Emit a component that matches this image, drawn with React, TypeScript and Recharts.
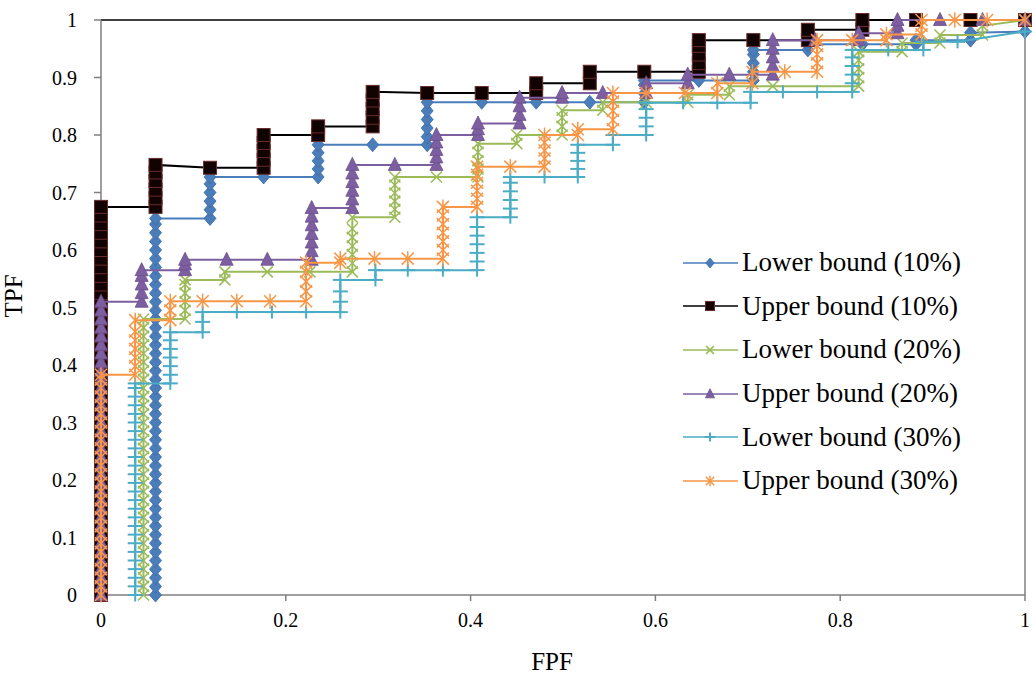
import React from 'react';
import { ScatterChart, Scatter, XAxis, YAxis, ReferenceLine, Label } from 'recharts';

// each step: [FPF, TPF values stacked at that FPF]
const lowerBound10: [number, number[]][] = [
  [0.059, [0, 0.015, 0.03, 0.045, 0.06, 0.075, 0.09, 0.105, 0.12, 0.135, 0.15, 0.165, 0.18, 0.195, 0.21, 0.225, 0.24, 0.255, 0.27, 0.285, 0.3, 0.315, 0.33, 0.345, 0.36, 0.375, 0.39, 0.405, 0.42, 0.435, 0.45, 0.465, 0.48, 0.495, 0.51, 0.525, 0.54, 0.555, 0.57, 0.585, 0.6, 0.615, 0.63, 0.645, 0.655]],
  [0.118, [0.655, 0.67, 0.685, 0.7, 0.715, 0.727]],
  [0.176, [0.727]],
  [0.235, [0.727, 0.741, 0.755, 0.769, 0.783]],
  [0.294, [0.783]],
  [0.353, [0.783, 0.797, 0.812, 0.827, 0.842, 0.857]],
  [0.412, [0.857]],
  [0.471, [0.857]],
  [0.529, [0.857]],
  [0.588, [0.857, 0.872, 0.887, 0.895]],
  [0.647, [0.895]],
  [0.706, [0.895, 0.91, 0.925, 0.94, 0.948]],
  [0.765, [0.948, 0.958]],
  [0.824, [0.958]],
  [0.882, [0.958, 0.965]],
  [0.941, [0.965, 0.978]],
  [1, [0.98]],
];

const upperBound10: [number, number[]][] = [
  [0, [0, 0.015, 0.03, 0.045, 0.06, 0.075, 0.09, 0.105, 0.12, 0.135, 0.15, 0.165, 0.18, 0.195, 0.21, 0.225, 0.24, 0.255, 0.27, 0.285, 0.3, 0.315, 0.33, 0.345, 0.36, 0.375, 0.39, 0.405, 0.42, 0.435, 0.45, 0.465, 0.48, 0.495, 0.51, 0.525, 0.54, 0.555, 0.57, 0.585, 0.6, 0.615, 0.63, 0.645, 0.66, 0.675]],
  [0.059, [0.675, 0.69, 0.705, 0.72, 0.735, 0.748]],
  [0.118, [0.743]],
  [0.176, [0.743, 0.757, 0.772, 0.786, 0.8]],
  [0.235, [0.8, 0.815]],
  [0.294, [0.815, 0.83, 0.845, 0.86, 0.875]],
  [0.353, [0.873]],
  [0.412, [0.873]],
  [0.471, [0.873, 0.89]],
  [0.529, [0.89, 0.91]],
  [0.588, [0.91]],
  [0.647, [0.91, 0.925, 0.94, 0.955, 0.965]],
  [0.706, [0.965]],
  [0.765, [0.965, 0.983]],
  [0.824, [0.983, 1]],
  [0.882, [1]],
  [0.941, [1]],
  [1, [1]],
];

const lowerBound20: [number, number[]][] = [
  [0.046, [0, 0.015, 0.03, 0.045, 0.06, 0.075, 0.09, 0.105, 0.12, 0.135, 0.15, 0.165, 0.18, 0.195, 0.21, 0.225, 0.24, 0.255, 0.27, 0.285, 0.3, 0.315, 0.33, 0.345, 0.36, 0.375, 0.39, 0.405, 0.42, 0.435, 0.45, 0.465, 0.48]],
  [0.091, [0.48, 0.495, 0.51, 0.525, 0.54, 0.548]],
  [0.134, [0.548, 0.562]],
  [0.18, [0.562]],
  [0.226, [0.562]],
  [0.272, [0.562, 0.577, 0.592, 0.607, 0.622, 0.637, 0.657]],
  [0.318, [0.657, 0.671, 0.685, 0.699, 0.713, 0.727]],
  [0.363, [0.727]],
  [0.408, [0.727, 0.741, 0.755, 0.77, 0.785]],
  [0.45, [0.785, 0.8]],
  [0.499, [0.8, 0.815, 0.83, 0.843]],
  [0.543, [0.843, 0.857]],
  [0.59, [0.857]],
  [0.635, [0.857, 0.87]],
  [0.68, [0.87, 0.885]],
  [0.727, [0.885]],
  [0.82, [0.885, 0.9, 0.915, 0.93, 0.945]],
  [0.867, [0.945, 0.96]],
  [0.908, [0.96, 0.974]],
  [0.954, [0.974, 0.99]],
  [1, [1]],
];

const upperBound20: [number, number[]][] = [
  [0, [0, 0.015, 0.03, 0.045, 0.06, 0.075, 0.09, 0.105, 0.12, 0.135, 0.15, 0.165, 0.18, 0.195, 0.21, 0.225, 0.24, 0.255, 0.27, 0.285, 0.3, 0.315, 0.33, 0.345, 0.36, 0.375, 0.39, 0.405, 0.42, 0.435, 0.45, 0.465, 0.48, 0.495, 0.51]],
  [0.044, [0.51, 0.525, 0.54, 0.555, 0.565]],
  [0.091, [0.565, 0.575, 0.583]],
  [0.136, [0.583]],
  [0.18, [0.583]],
  [0.228, [0.583, 0.598, 0.613, 0.628, 0.643, 0.658, 0.673]],
  [0.272, [0.673, 0.688, 0.703, 0.718, 0.733, 0.748]],
  [0.318, [0.748]],
  [0.363, [0.748, 0.761, 0.774, 0.787, 0.8]],
  [0.408, [0.8, 0.81, 0.82]],
  [0.453, [0.82, 0.835, 0.85, 0.865]],
  [0.499, [0.865, 0.873]],
  [0.543, [0.873]],
  [0.59, [0.873, 0.89]],
  [0.635, [0.89, 0.905]],
  [0.68, [0.905]],
  [0.727, [0.905, 0.92, 0.935, 0.95, 0.965]],
  [0.773, [0.965]],
  [0.82, [0.965, 0.977]],
  [0.862, [0.977, 0.99, 1]],
  [0.908, [1]],
  [0.954, [1]],
  [1, [1]],
];

const lowerBound30: [number, number[]][] = [
  [0.037, [0, 0.015, 0.03, 0.045, 0.06, 0.075, 0.09, 0.105, 0.12, 0.135, 0.15, 0.165, 0.18, 0.195, 0.21, 0.225, 0.24, 0.255, 0.27, 0.285, 0.3, 0.315, 0.33, 0.345, 0.36, 0.368]],
  [0.075, [0.368, 0.383, 0.398, 0.413, 0.428, 0.443, 0.457]],
  [0.11, [0.457, 0.475, 0.492]],
  [0.147, [0.492]],
  [0.185, [0.492]],
  [0.222, [0.492]],
  [0.259, [0.492, 0.51, 0.528, 0.548]],
  [0.297, [0.548, 0.565]],
  [0.332, [0.565]],
  [0.37, [0.565]],
  [0.407, [0.565, 0.58, 0.595, 0.61, 0.625, 0.64, 0.657]],
  [0.443, [0.657, 0.672, 0.687, 0.702, 0.717, 0.727]],
  [0.48, [0.727]],
  [0.516, [0.727, 0.741, 0.755, 0.769, 0.783]],
  [0.554, [0.783, 0.8]],
  [0.59, [0.8, 0.815, 0.83, 0.845, 0.856]],
  [0.63, [0.856]],
  [0.667, [0.856]],
  [0.703, [0.856, 0.875]],
  [0.738, [0.875]],
  [0.775, [0.875]],
  [0.813, [0.875, 0.89, 0.905, 0.92, 0.935, 0.948]],
  [0.852, [0.948]],
  [0.89, [0.948, 0.962]],
  [0.927, [0.962]],
  [1, [0.98]],
];

const upperBound30: [number, number[]][] = [
  [0, [0, 0.015, 0.03, 0.045, 0.06, 0.075, 0.09, 0.105, 0.12, 0.135, 0.15, 0.165, 0.18, 0.195, 0.21, 0.225, 0.24, 0.255, 0.27, 0.285, 0.3, 0.315, 0.33, 0.345, 0.36, 0.375, 0.383]],
  [0.037, [0.383, 0.398, 0.413, 0.428, 0.443, 0.458, 0.478]],
  [0.075, [0.478, 0.495, 0.511]],
  [0.11, [0.511]],
  [0.147, [0.511]],
  [0.183, [0.511]],
  [0.222, [0.511, 0.528, 0.545, 0.562, 0.578]],
  [0.259, [0.578, 0.585]],
  [0.296, [0.585]],
  [0.332, [0.585]],
  [0.37, [0.585, 0.6, 0.615, 0.63, 0.645, 0.66, 0.675]],
  [0.407, [0.675, 0.689, 0.703, 0.717, 0.731, 0.745]],
  [0.443, [0.745]],
  [0.48, [0.745, 0.759, 0.773, 0.787, 0.8]],
  [0.516, [0.8, 0.81]],
  [0.554, [0.81, 0.826, 0.842, 0.858, 0.873]],
  [0.59, [0.873]],
  [0.632, [0.873]],
  [0.667, [0.873, 0.89]],
  [0.705, [0.89, 0.91]],
  [0.74, [0.91]],
  [0.775, [0.91, 0.925, 0.94, 0.955, 0.965]],
  [0.813, [0.965]],
  [0.85, [0.965, 0.975]],
  [0.888, [0.975, 0.99, 1]],
  [0.924, [1]],
  [0.959, [1]],
  [1, [1]],
];

const xTicks = [0, 0.2, 0.4, 0.6, 0.8, 1];
const yTicks = [0, 0.1, 0.2, 0.3, 0.4, 0.5, 0.6, 0.7, 0.8, 0.9, 1];

const FONT = '"Liberation Serif", "Times New Roman", serif';

const toPoints = (steps: [number, number[]][]) =>
  steps.flatMap(([x, ys]) => ys.map((y) => ({ x, y })));

// marker shapes, k scales them down for the legend
const Diamond = ({ cx, cy, k = 1 }: any) => (
  <polygon
    points={`${cx},${cy - 7 * k} ${cx + 6 * k},${cy} ${cx},${cy + 7 * k} ${cx - 6 * k},${cy}`}
    fill="#4a7ebb"
    stroke="#3d6aa3"
    strokeWidth={0.8}
  />
);
const Square = ({ cx, cy, k = 1 }: any) => (
  <rect x={cx - 6.5 * k} y={cy - 6.5 * k} width={13 * k} height={13 * k} fill="#120303" stroke="#6b2b2b" strokeWidth={1} />
);
const Cross = ({ cx, cy, k = 1 }: any) => (
  <g stroke="#9bbb59" strokeWidth={1.5}>
    <line x1={cx - 5.5 * k} y1={cy - 5.5 * k} x2={cx + 5.5 * k} y2={cy + 5.5 * k} />
    <line x1={cx - 5.5 * k} y1={cy + 5.5 * k} x2={cx + 5.5 * k} y2={cy - 5.5 * k} />
  </g>
);
const Triangle = ({ cx, cy, k = 1 }: any) => (
  <polygon
    points={`${cx},${cy - 7.5 * k} ${cx + 6.5 * k},${cy + 5.5 * k} ${cx - 6.5 * k},${cy + 5.5 * k}`}
    fill="#7d5fa1"
    stroke="#6a4f8c"
    strokeWidth={0.8}
  />
);
const Plus = ({ cx, cy, k = 1 }: any) => (
  <g stroke="#4bacc6" strokeWidth={2}>
    <line x1={cx - 7.5 * k} y1={cy} x2={cx + 7.5 * k} y2={cy} />
    <line x1={cx} y1={cy - 6.5 * k} x2={cx} y2={cy + 6.5 * k} />
  </g>
);
const Star = ({ cx, cy, k = 1 }: any) => (
  <g stroke="#f79646" strokeWidth={1.5}>
    <line x1={cx - 6 * k} y1={cy - 6 * k} x2={cx + 6 * k} y2={cy + 6 * k} />
    <line x1={cx - 6 * k} y1={cy + 6 * k} x2={cx + 6 * k} y2={cy - 6 * k} />
    <line x1={cx} y1={cy - 7.5 * k} x2={cx} y2={cy + 7.5 * k} />
  </g>
);

const series = [
  { name: 'Lower bound (10%)', steps: lowerBound10, color: '#4a7ebb', Marker: Diamond },
  { name: 'Upper bound (10%)', steps: upperBound10, color: '#000000', Marker: Square },
  { name: 'Lower bound (20%)', steps: lowerBound20, color: '#9bbb59', Marker: Cross },
  { name: 'Upper bound (20%)', steps: upperBound20, color: '#7d5fa1', Marker: Triangle },
  { name: 'Lower bound (30%)', steps: lowerBound30, color: '#4bacc6', Marker: Plus },
  { name: 'Upper bound (30%)', steps: upperBound30, color: '#f79646', Marker: Star },
];

function ChartLegend() {
  return (
    <div style={{ position: 'absolute', left: 683, top: 241, fontFamily: FONT, fontSize: 27, color: '#000' }}>
      {series.map((s) => (
        <div key={s.name} style={{ display: 'flex', alignItems: 'center', height: 43.6 }}>
          <svg width={56} height={20} style={{ marginRight: 3 }}>
            <line x1={0} y1={10} x2={55} y2={10} stroke={s.color} strokeWidth={1.5} />
            <s.Marker cx={27} cy={10} k={0.7} />
          </svg>
          <span>{s.name}</span>
        </div>
      ))}
    </div>
  );
}

export default function App() {
  return (
    <div style={{ position: 'absolute', left: 0, top: 0, width: 1032, height: 682, background: '#fff' }}>
      <ScatterChart width={1032} height={682} margin={{ top: 20, right: 7, bottom: 0, left: 0 }}>
        <XAxis
          type="number"
          dataKey="x"
          domain={[0, 1]}
          ticks={xTicks}
          height={87}
          stroke="#7f7f7f"
          strokeWidth={1.5}
          tickSize={6}
          tickMargin={12}
          tick={{ fill: '#000', fontFamily: FONT, fontSize: 20 }}
        >
          <Label
            content={() => (
              <text x={552} y={670} textAnchor="middle" fontFamily={FONT} fontSize={25} fill="#000">
                FPF
              </text>
            )}
          />
        </XAxis>
        <YAxis
          type="number"
          dataKey="y"
          domain={[0, 1]}
          ticks={yTicks}
          width={101}
          stroke="#7f7f7f"
          strokeWidth={1.5}
          tickSize={7}
          tickMargin={17}
          tick={{ fill: '#000', fontFamily: FONT, fontSize: 20 }}
        >
          <Label
            content={() => (
              <text x={22} y={296} transform="rotate(-90 22 296)" textAnchor="middle" fontFamily={FONT} fontSize={25} fill="#000">
                TPF
              </text>
            )}
          />
        </YAxis>
        <ReferenceLine y={1} stroke="#404040" strokeWidth={2} />
        <ReferenceLine x={1} stroke="#7f7f7f" strokeWidth={1.5} />
        {series.map((s) => (
          <Scatter
            key={s.name}
            name={s.name}
            data={toPoints(s.steps)}
            line={{ stroke: s.color, strokeWidth: 2 }}
            lineType="joint"
            shape={(p: any) => <s.Marker cx={p.cx} cy={p.cy} />}
            isAnimationActive={false}
          />
        ))}
      </ScatterChart>
      <ChartLegend />
    </div>
  );
}
